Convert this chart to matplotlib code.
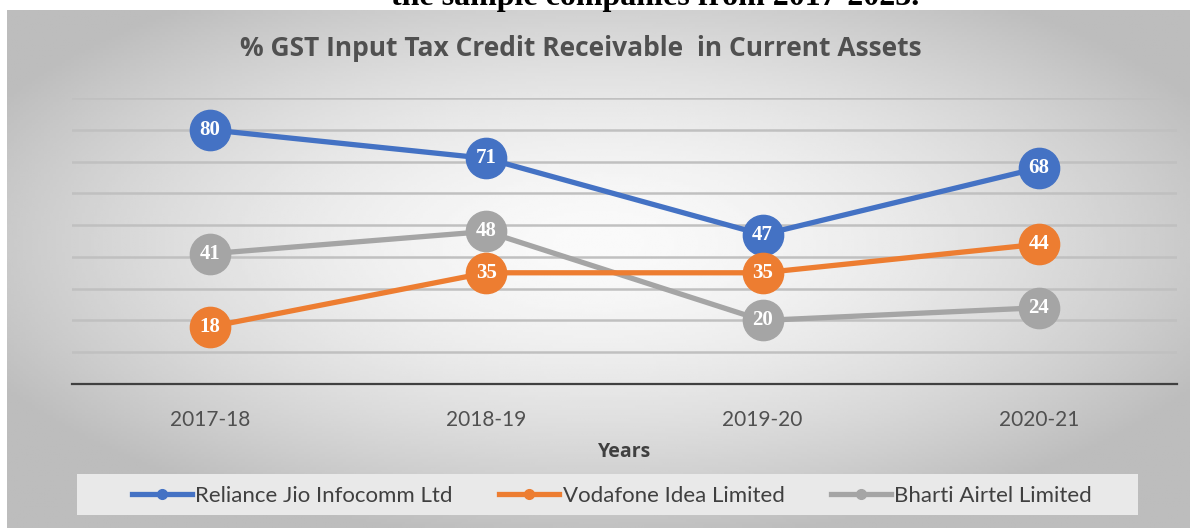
import numpy as np
import matplotlib
matplotlib.use('Agg')
import matplotlib.pyplot as plt
from matplotlib.patches import Rectangle

years = ['2017-18', '2018-19', '2019-20', '2020-21']
jio = [80, 71, 47, 68]
vodafone = [18, 35, 35, 44]
airtel = [41, 48, 20, 24]

series_names = ['Reliance Jio Infocomm Ltd', 'Vodafone Idea Limited', 'Bharti Airtel Limited']
colors = ['#4472C4', '#ED7D31', '#A5A5A5']

W, H = 1195, 528
fig = plt.figure(figsize=(W/100, H/100), dpi=100)
fig.patch.set_facecolor('white')

# radial grey background of the chart box
bg = fig.add_axes([7/W, 0, (1190-7)/W, (H-10)/H], zorder=-5)
gx, gy = np.meshgrid(np.linspace(-1, 1, 400), np.linspace(-1, 1, 200))
r = np.sqrt(gx**2 + (gy+0.1)**2)
shade = np.clip(0.98 - 0.19*r**1.6, 0.74, 1)
bg.imshow(shade, cmap='gray', vmin=0, vmax=1, aspect='auto', extent=[0, 1, 0, 1])
bg.axis('off')

# cut-off caption line above the chart
fig.text(655/W, 1 - 5/H, 'the sample companies from 2017-2023.', family='Liberation Serif',
         weight='bold', fontsize=23, ha='center', va='baseline', color='black')

ax = fig.add_axes([72/W, (H-384)/H, (1177-72)/W, (384-98)/H])
ax.patch.set_alpha(0)
x = np.arange(len(years))
ax.set_xlim(-0.5, len(years)-0.5)
ax.set_ylim(0, 90)
ax.set_yticks(range(0, 91, 10))
ax.yaxis.grid(True, color='#c0c0c0', lw=1.8)
ax.set_axisbelow(True)
for s in ['top', 'right', 'left']:
    ax.spines[s].set_visible(False)
ax.spines['bottom'].set_color('#404040')
ax.spines['bottom'].set_linewidth(1.6)
ax.tick_params(axis='y', left=False, labelleft=False)
ax.tick_params(axis='x', length=0, pad=19, labelsize=15, labelcolor='#505050')
ax.set_xticks(x)
ax.set_xticklabels(years, family='Lato')

zs = [4, 5, 3]
for vals, name, c, z in zip([jio, vodafone, airtel], series_names, colors, zs):
    ax.plot(x, vals, color=c, lw=3.8, marker='o', markersize=29, zorder=z,
            solid_capstyle='round')
    for xi, v in zip(x, vals):
        ax.text(xi, v, str(v), ha='center', va='center', color='white',
                family='Liberation Serif', weight='bold', fontsize=15, zorder=z+0.5)

fig.text(581/W, 1 - 49/H, '% GST Input Tax Credit Receivable  in Current Assets',
         family='Open Sans', weight='bold', fontsize=19, color='#505050',
         ha='center', va='center')
fig.text(625/W, 1 - 452/H, 'Years', family='Open Sans', weight='bold', fontsize=14,
         color='#404040', ha='center', va='center')

# legend strip
fig.patches.append(Rectangle((77/W, 1 - 515/H), (1138-77)/W, 41/H,
                             transform=fig.transFigure, facecolor='#e9e9e9',
                             edgecolor='none', zorder=-1))
handles = [plt.Line2D([], [], color=c, lw=3.8, marker='o', markersize=7) for c in colors]
leg = fig.legend(handles, series_names, loc='center', bbox_to_anchor=(612/W, 1 - 496/H),
                 ncol=3, frameon=False, handlelength=2.7, handletextpad=0.15,
                 columnspacing=2.1, prop={'family': 'Lato', 'size': 16})
for t in leg.get_texts():
    t.set_color('#404040')

fig.savefig('out.png', dpi=100)
